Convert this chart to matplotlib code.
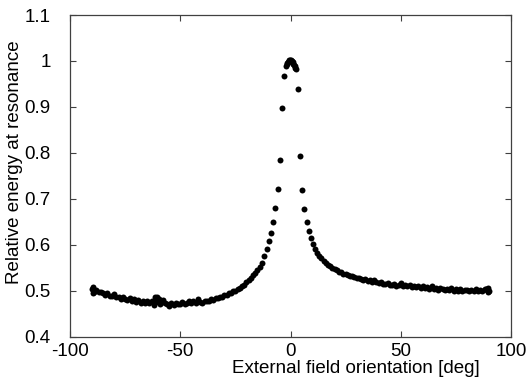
import numpy as np
import matplotlib
matplotlib.use('Agg')
import matplotlib.pyplot as plt
from matplotlib.ticker import FuncFormatter

# baseline, left wing (1 deg steps)
left_x = list(range(-90, -12)) + [-89.6, -89.4, -62.0, -61.4, -60.5, -59.6]
left_y = [0.503, 0.497, 0.501, 0.496, 0.497, 0.494, 0.490, 0.495, 0.489, 0.488,
          0.492, 0.486, 0.487, 0.482, 0.486, 0.481, 0.480, 0.484, 0.478, 0.481,
          0.476, 0.479, 0.474, 0.478, 0.473, 0.477, 0.472, 0.477, 0.473, 0.481,
          0.476, 0.471, 0.479, 0.472, 0.470, 0.467, 0.472, 0.469, 0.474, 0.471,
          0.470, 0.475, 0.471, 0.474, 0.477, 0.473, 0.478, 0.472, 0.481, 0.475,
          0.474, 0.478, 0.478, 0.477, 0.482, 0.479, 0.484, 0.483, 0.487, 0.486,
          0.490, 0.490, 0.494, 0.494, 0.498, 0.499, 0.504, 0.506, 0.511, 0.513,
          0.518, 0.523, 0.528, 0.533, 0.539, 0.545, 0.552, 0.560,
          0.507, 0.495, 0.469, 0.485, 0.486, 0.482]

# peak region
peak_x = [-11.9, -10.8, -9.75, -8.8, -7.8, -6.9, -5.8, -4.76, -3.85, -2.95,
          -2.0, -1.7, -1.4, -1.1, -0.8, -0.5, -0.2, 0.1, 0.4, 0.7, 1.0, 1.3,
          1.6, 1.9, 2.2, 2.45,
          3.25, 4.3, 5.2, 6.3, 7.3, 8.3, 9.25, 10.1]
peak_y = [0.575, 0.590, 0.607, 0.625, 0.649, 0.679, 0.721, 0.785, 0.898, 0.968,
          0.989, 0.993, 0.996, 0.998, 1.000, 1.001, 1.001, 1.001, 1.000, 0.999,
          0.997, 0.994, 0.991, 0.988, 0.985, 0.982,
          0.939, 0.792, 0.719, 0.678, 0.650, 0.630, 0.615, 0.602]

# baseline, right wing
right_x = list(range(11, 91)) + [89.4, 89.7, 88.6]
right_y = [0.590, 0.582, 0.576, 0.570, 0.565, 0.561, 0.556, 0.553, 0.549, 0.547,
           0.544, 0.541, 0.540, 0.537, 0.536, 0.534, 0.532, 0.531, 0.529, 0.528,
           0.527, 0.525, 0.524, 0.526, 0.521, 0.523, 0.519, 0.522, 0.518, 0.516,
           0.519, 0.515, 0.515, 0.517, 0.513, 0.513, 0.515, 0.511, 0.513, 0.517,
           0.510, 0.513, 0.509, 0.512, 0.508, 0.511, 0.507, 0.510, 0.506, 0.509,
           0.505, 0.508, 0.504, 0.509, 0.503, 0.506, 0.502, 0.506, 0.504, 0.501,
           0.504, 0.501, 0.505, 0.500, 0.503, 0.500, 0.503, 0.499, 0.502, 0.502,
           0.499, 0.502, 0.499, 0.503, 0.499, 0.502, 0.498, 0.503, 0.501, 0.500,
           0.506, 0.497, 0.504]

xticks = [-100, -50, 0, 50, 100]
yticks = [0.4, 0.5, 0.6, 0.7, 0.8, 0.9, 1.0, 1.1]


def main():
    plt.rcParams['font.family'] = ['Liberation Sans', 'DejaVu Sans']
    plt.rcParams['font.size'] = 13.5
    plt.rcParams['axes.unicode_minus'] = False

    fig = plt.figure(figsize=(5.31, 3.85), dpi=100)
    ax = fig.add_axes([70 / 531, 1 - 336.5 / 385, 441 / 531, 321.5 / 385])

    x = left_x + peak_x + right_x
    y = left_y + peak_y + right_y
    ax.plot(x, y, 'o', ms=4.3, color='black', mec='none')

    ax.set_xlim(-100, 100)
    ax.set_ylim(0.4, 1.1)
    ax.set_xticks(xticks)
    ax.set_yticks(yticks)
    ax.yaxis.set_major_formatter(FuncFormatter(lambda v, p: '%g' % v))

    for s in ax.spines.values():
        s.set_color('#404040')
        s.set_linewidth(0.9)
    ax.tick_params(direction='in', length=4, width=0.8, color='#404040',
                   top=True, right=True)
    ax.tick_params(axis='x', pad=5)
    ax.tick_params(axis='y', pad=14)

    ax.set_xlabel('External field orientation [deg]', va='center')
    ax.xaxis.set_label_coords(0.649, -0.101)
    ax.set_ylabel('Relative energy at resonance', va='center')
    ax.yaxis.set_label_coords(-0.126, 0.541)

    fig.savefig('out.png', dpi=100)


if __name__ == "__main__":
    main()
